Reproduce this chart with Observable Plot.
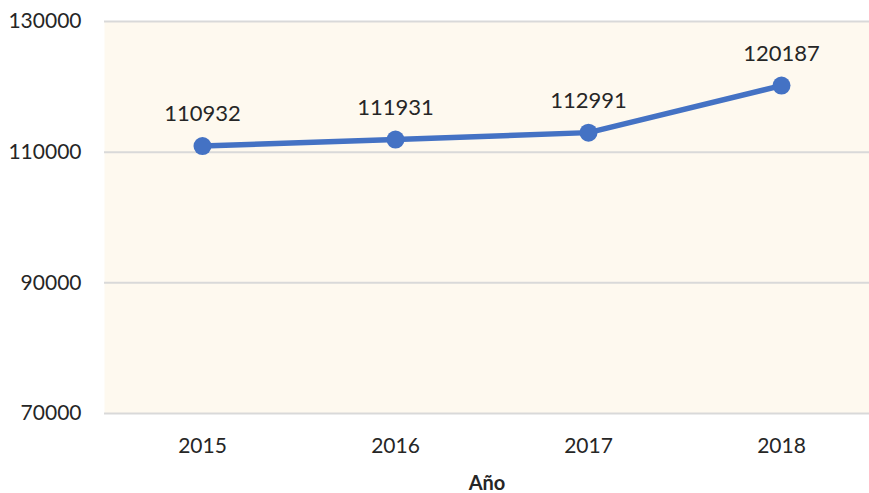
<!DOCTYPE html>
<html>
<head>
<meta charset="utf-8">
<script src="https://cdn.jsdelivr.net/npm/d3@7"></script>
<script src="https://cdn.jsdelivr.net/npm/@observablehq/plot@0.6"></script>
<style>
  html, body { margin: 0; padding: 0; background: #fff; }
  svg { display: block; }
</style>
</head>
<body>
<div id="chart"></div>
<script>
const years = ["2015", "2016", "2017", "2018"];
const values = [110932, 111931, 112991, 120187];
const yTicks = [70000, 90000, 110000, 130000];
const xLabel = "Año";

const data = years.map((y, i) => ({year: y, value: values[i]}));

const chart = Plot.plot({
  width: 869,
  height: 493,
  marginLeft: 104,
  marginRight: 0,
  marginTop: 21,
  marginBottom: 80,
  style: {fontFamily: "Lato, sans-serif", fontSize: "21px", color: "#262626", background: "#fff"},
  x: {type: "point", domain: years, range: [202, 781], padding: 0},
  y: {domain: [70000, 130000], ticks: yTicks},
  marks: [
    Plot.frame({fill: "#FEF9EF", stroke: null}),
    Plot.gridY(yTicks, {stroke: "#D9D9D9", strokeWidth: 2, strokeOpacity: 1}),
    Plot.axisY(yTicks, {tickSize: 0, tickPadding: 23, tickFormat: d => String(d), label: null, fill: "#262626", fontSize: 21}),
    Plot.axisX({tickSize: 0, tickPadding: 25, label: null, fill: "#262626", fontSize: 21}),
    Plot.line(data, {x: "year", y: "value", stroke: "#4472C4", strokeWidth: 5.5}),
    Plot.dot(data, {x: "year", y: "value", r: 9, fill: "#4472C4", stroke: null}),
    Plot.text(data, {x: "year", y: "value", text: d => String(d.value), dy: -32, fill: "#262626", fontSize: 22}),
    Plot.text([xLabel], {frameAnchor: "bottom", dy: 76, fontWeight: "bold", fontSize: 20, fill: "#262626"})
  ]
});
document.getElementById("chart").appendChild(chart);
</script>
</body>
</html>
